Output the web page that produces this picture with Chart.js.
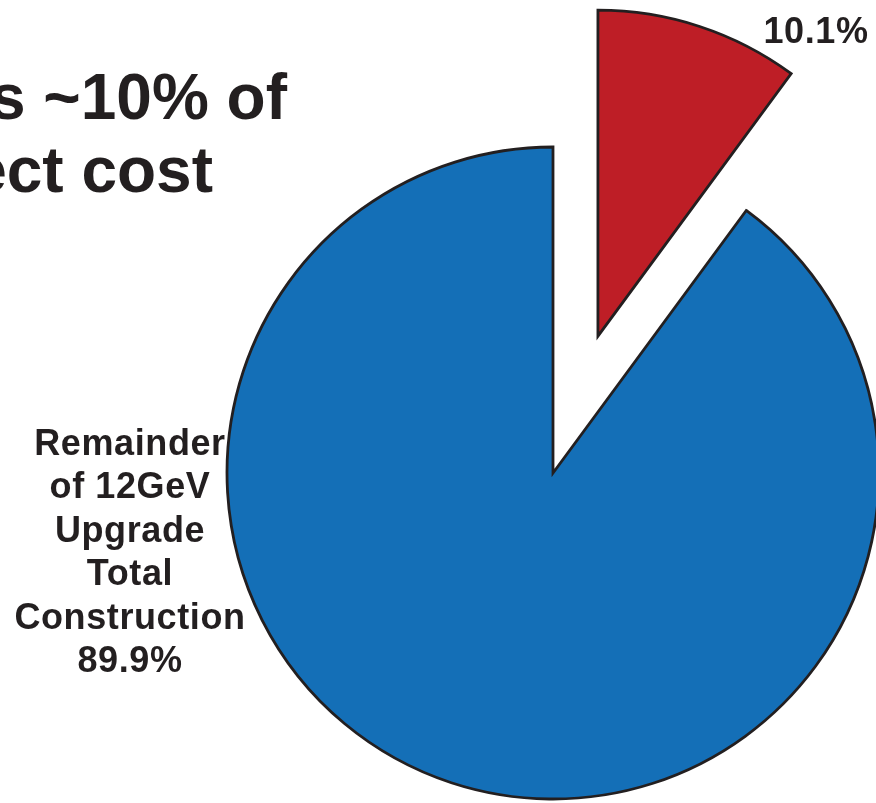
<!DOCTYPE html>
<html>
<head>
<meta charset="utf-8">
<script src="https://cdn.jsdelivr.net/npm/chart.js@4"></script>
<style>
  html, body { margin: 0; padding: 0; background: #fff; }
  #wrap { width: 876px; height: 803px; position: relative; }
</style>
</head>
<body>
<div id="wrap"><canvas id="pie"></canvas></div>
<script>
const sliceLabels = ['10.1%', 'Remainder of 12GeV Upgrade Total Construction'];
const sliceValues = [10.1, 89.9];
const sliceColors = ['#be1e26', '#146fb7'];
const titleLines = ['s ~10% of', 'ect cost'];
const remainderLines = ['Remainder', 'of 12GeV', 'Upgrade', 'Total', 'Construction', '89.9%'];
const smallSliceText = '10.1%';

const INK = '#231f20';
const EXPLODE = 144; // px the small slice is pulled out

// pull the first slice out along its mid angle (pure translation)
const explodePlugin = {
  id: 'explode',
  afterUpdate(chart) {
    const arc = chart.getDatasetMeta(0).data[0];
    const mid = (arc.startAngle + arc.endAngle) / 2;
    arc.x += Math.cos(mid) * EXPLODE;
    arc.y += Math.sin(mid) * EXPLODE;
  }
};

const textPlugin = {
  id: 'texts',
  afterDraw(chart) {
    const ctx = chart.ctx;
    ctx.save();
    ctx.fillStyle = INK;
    ctx.textBaseline = 'alphabetic';

    ctx.font = 'bold 64px "Liberation Sans", Arial, sans-serif';
    ctx.textAlign = 'right';
    ctx.fillText(titleLines[0], 287, 119);
    ctx.fillText(titleLines[1], 213, 192);

    ctx.font = 'bold 36px "Liberation Sans", Arial, sans-serif';
    ctx.letterSpacing = '0.6px';
    ctx.textAlign = 'center';
    remainderLines.forEach((t, i) => ctx.fillText(t, 130, 455 + i * 43.4));

    ctx.fillText(smallSliceText, 816, 43);
    ctx.restore();
  }
};

new Chart(document.getElementById('pie').getContext('2d'), {
  type: 'pie',
  data: {
    labels: sliceLabels,
    datasets: [{
      data: sliceValues,
      backgroundColor: sliceColors,
      borderColor: INK,
      borderWidth: 2.8,
      borderJoinStyle: 'miter',
      radius: 326,
    }],
  },
  options: {
    responsive: true,
    maintainAspectRatio: false,
    animation: false,
    devicePixelRatio: 1,
    layout: { padding: { left: 230, right: 0, top: 143, bottom: 0 } },
    plugins: {
      legend: { display: false },
      tooltip: { enabled: false },
    },
  },
  plugins: [explodePlugin, textPlugin],
});
</script>
</body>
</html>
